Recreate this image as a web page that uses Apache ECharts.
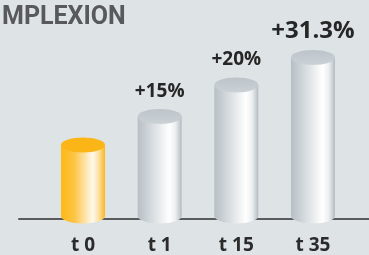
<!DOCTYPE html>
<html><head><meta charset="utf-8">
<script src="https://cdn.jsdelivr.net/npm/echarts@6/dist/echarts.min.js"></script>
<style>html,body{margin:0;padding:0;background:#dee3e6;overflow:hidden}#c{width:369px;height:255px}</style>
</head><body><div id="c"></div>
<script>
// Data
const categories = ['t 0', 't 1', 't 15', 't 35'];
const heights = [72, 101, 133, 161];          // relative cylinder heights
const changeLabels = ['', '+15%', '+20%', '+31.3%'];
const titleText = 'MPLEXION';

const chart = echarts.init(document.getElementById('c'), null, {renderer: 'canvas'});

function bodyGradient(first) {
  const stops = first ? [
    {offset: 0, color: '#fdb813'},
    {offset: 0.3, color: '#fdc445'},
    {offset: 0.72, color: '#fff9ec'},
    {offset: 0.86, color: '#fde0a2'},
    {offset: 1, color: '#fbb61a'}
  ] : [
    {offset: 0, color: '#b7bfc5'},
    {offset: 0.25, color: '#cfd5d9'},
    {offset: 0.72, color: '#ffffff'},
    {offset: 0.86, color: '#eceff1'},
    {offset: 1, color: '#b3bbc1'}
  ];
  return new echarts.graphic.LinearGradient(0, 0, 1, 0, stops);
}

const seriesData = categories.map((c, i) => [i, heights[i], changeLabels[i]]);

chart.setOption({
  backgroundColor: '#dee3e6',
  animation: false,
  title: {
    text: titleText, left: -3, top: 0,
    textStyle: {fontFamily: 'Roboto', fontWeight: 'bold', fontSize: 25, color: '#58595b'}
  },
  grid: [
    {left: 19, right: 0, top: 19, bottom: 36},
    {left: 44.7, right: 17.7, top: 19, bottom: 36}
  ],
  xAxis: [
    {gridIndex: 0, type: 'value', min: 0, max: 1,
     axisLine: {show: true, lineStyle: {color: '#5a5b5d', width: 2}},
     axisTick: {show: false}, axisLabel: {show: false}, splitLine: {show: false}},
    {gridIndex: 1, type: 'category', data: categories,
     axisLine: {show: false}, axisTick: {show: false},
     axisLabel: {margin: 20, fontFamily: 'Open Sans', fontWeight: 'bold', fontSize: 19, color: '#2b2b2b'}}
  ],
  yAxis: [
    {gridIndex: 0, type: 'value', min: 0, max: 1, show: false},
    {gridIndex: 1, type: 'value', min: 0, max: 200, show: false}
  ],
  series: [{
    type: 'custom',
    xAxisIndex: 1, yAxisIndex: 1,
    data: seriesData,
    z: 5,
    renderItem: function (params, api) {
      const i = api.value(0);
      const top = api.coord([i, api.value(1)]);
      const base = api.coord([i, 0]);
      const rx = 22, ry = 7.5;
      const first = params.dataIndex === 0;
      const grad = bodyGradient(first);
      const label = changeLabels[params.dataIndex];
      const big = params.dataIndex === categories.length - 1;
      const children = [
        {type: 'ellipse', shape: {cx: top[0], cy: base[1], rx: rx, ry: ry}, style: {fill: grad}},
        {type: 'rect', shape: {x: top[0] - rx, y: top[1], width: 2 * rx, height: base[1] - top[1]}, style: {fill: grad}},
        {type: 'ellipse', shape: {cx: top[0], cy: top[1], rx: rx, ry: ry},
         style: {fill: first ? '#fbb516' : new echarts.graphic.LinearGradient(0, 0, 0, 1, [
           {offset: 0, color: '#bcc4ca'}, {offset: 1, color: '#cbd2d6'}])}}
      ];
      if (label) {
        children.push({type: 'text', style: {
          text: label, x: top[0], y: top[1] - ry - (big ? 7 : 8),
          align: 'center', verticalAlign: 'bottom',
          font: 'bold ' + (big ? 24 : 19) + 'px "Open Sans"', fill: '#262626'
        }});
      }
      return {type: 'group', children: children};
    }
  }]
});
</script></body></html>
